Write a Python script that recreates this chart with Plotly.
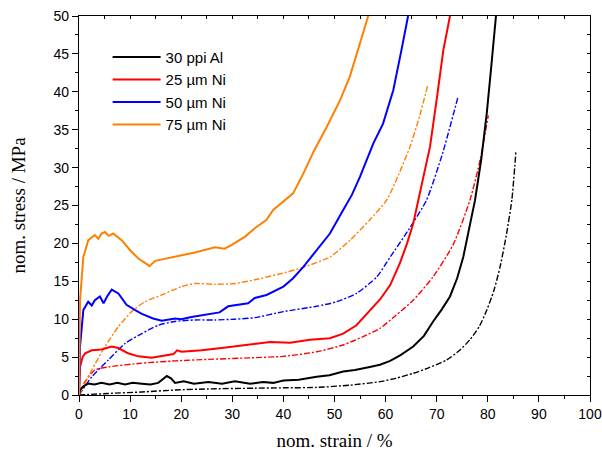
import plotly.graph_objects as go

# ---- data (nom. strain %, nom. stress MPa) ----
al_x = [0, 0.2, 1.0, 1.8, 3.0, 4.4, 6.0, 7.5, 9.0, 10.5, 12.3, 14.0, 15.5, 16.5, 17.2, 18.0, 18.8, 20.5, 22.5, 25.3, 28.0, 30.5, 33.5, 36.0, 38.0, 40.0, 43.0, 46.5, 49.0, 51.7, 54.0, 56.9, 58.9, 60.9, 63.0, 65.4, 67.5, 69.3, 71.0, 72.6, 74.0, 75.2, 76.2, 77.5, 78.7, 79.8, 80.7, 81.6]
al_y = [0, 0.7, 1.2, 1.5, 1.4, 1.6, 1.4, 1.6, 1.4, 1.6, 1.5, 1.4, 1.6, 2.1, 2.5, 2.2, 1.6, 1.8, 1.5, 1.7, 1.5, 1.8, 1.5, 1.7, 1.6, 1.9, 2.0, 2.4, 2.6, 3.1, 3.3, 3.7, 4.0, 4.5, 5.3, 6.4, 7.8, 9.7, 11.3, 13.0, 15.4, 18.2, 21.3, 25.7, 31.0, 37.2, 43.5, 50.0]
al_c_x = [0, 5.7, 12.3, 18.8, 25.3, 34.4, 40.0, 46.5, 53.0, 58.9, 62.0, 65.4, 68.5, 71.9, 74.5, 76.5, 78.3, 79.8, 81.2, 82.4, 83.6, 84.7, 85.5]
al_c_y = [0, 0.2, 0.4, 0.66, 0.8, 0.9, 0.95, 1.0, 1.3, 1.76, 2.2, 2.86, 3.6, 4.6, 5.9, 7.3, 9.0, 11.2, 13.8, 16.9, 21.0, 25.7, 32.1]

ni25_x = [0, 0.2, 0.7, 1.2, 2.5, 4.4, 6.4, 7.7, 9.6, 11.6, 14.2, 17.5, 18.5, 19.2, 20.1, 22.0, 24.0, 27.9, 31.8, 34.4, 37.4, 41.3, 45.2, 49.1, 51.7, 54.3, 56.9, 58.9, 60.9, 62.8, 64.2, 65.4, 66.4, 67.6, 68.7, 70.0, 71.3, 72.6]
ni25_y = [0, 3.7, 5.0, 5.5, 5.9, 6.0, 6.4, 6.2, 5.5, 5.1, 4.9, 5.3, 5.4, 5.9, 5.7, 5.8, 5.9, 6.2, 6.5, 6.7, 7.0, 6.9, 7.3, 7.5, 8.1, 9.2, 11.2, 12.6, 14.5, 17.4, 20.0, 22.6, 25.7, 29.2, 32.8, 39.0, 45.5, 50.0]
ni25_c_x = [0, 1.2, 3.1, 5.7, 12.3, 18.8, 25.3, 33.5, 40.0, 46.5, 51.7, 55.6, 58.9, 62.0, 65.4, 69.3, 73.2, 76.5, 78.5, 80.1]
ni25_c_y = [0, 1.8, 3.3, 3.7, 4.2, 4.5, 4.7, 4.9, 5.1, 5.7, 6.6, 7.7, 8.8, 10.5, 12.5, 15.6, 19.8, 25.7, 31.0, 36.9]

ni50_x = [0, 0.2, 0.85, 1.8, 2.5, 3.1, 4.1, 4.8, 5.5, 6.4, 7.7, 9.3, 11.0, 12.3, 14.5, 16.2, 18.8, 20.0, 22.0, 25.3, 27.5, 29.2, 33.1, 34.4, 36.7, 40.0, 41.9, 43.9, 46.5, 49.1, 51.7, 53.4, 55.0, 57.6, 59.5, 61.5, 63.1, 64.4]
ni50_y = [0, 6.4, 11.2, 12.3, 11.8, 12.5, 13.0, 12.1, 13.0, 13.9, 13.4, 11.9, 11.2, 10.7, 10.1, 9.8, 10.1, 10.0, 10.3, 10.6, 10.9, 11.7, 12.1, 12.8, 13.2, 14.3, 15.4, 16.9, 19.1, 21.3, 24.4, 26.4, 28.8, 33.2, 35.8, 40.2, 45.5, 50.0]
ni50_c_x = [0, 2.5, 5.7, 9.0, 12.3, 15.5, 18.8, 22.7, 26.6, 30.5, 34.4, 40.0, 46.5, 50.4, 54.3, 58.3, 60.9, 64.5, 68.0, 71.2, 74.2]
ni50_c_y = [0, 2.4, 4.6, 6.8, 8.1, 9.2, 9.7, 9.9, 9.9, 10.0, 10.2, 11.0, 11.7, 12.3, 13.4, 15.6, 18.2, 21.8, 25.7, 32.0, 39.4]

ni75_x = [0, 0.2, 0.85, 1.8, 2.5, 3.1, 3.8, 4.4, 5.1, 5.8, 6.7, 8.4, 10.0, 11.6, 13.2, 13.8, 14.9, 18.8, 22.7, 26.6, 28.5, 29.9, 32.5, 34.4, 36.7, 38.0, 40.0, 41.9, 43.9, 45.9, 48.5, 51.1, 53.0, 55.0, 56.6]
ni75_y = [0, 12.5, 18.2, 20.4, 20.8, 21.1, 20.6, 21.3, 21.5, 21.0, 21.3, 20.4, 19.1, 18.0, 17.3, 17.0, 17.7, 18.2, 18.8, 19.5, 19.3, 19.8, 20.9, 22.0, 23.1, 24.4, 25.5, 26.6, 29.2, 32.1, 35.4, 38.9, 42.0, 46.4, 50.0]
ni75_c_x = [0, 2.5, 5.1, 7.7, 10.3, 12.9, 16.2, 20.1, 22.7, 26.6, 30.5, 34.4, 40.0, 43.2, 49.1, 53.0, 56.9, 60.2, 62.5, 64.8, 66.7, 68.3]
ni75_c_y = [0, 3.3, 6.4, 9.0, 11.0, 12.3, 13.2, 14.3, 14.7, 14.6, 14.7, 15.2, 16.1, 16.7, 18.2, 20.4, 23.1, 25.7, 29.0, 32.8, 36.9, 41.0]

labels = ["30 ppi Al", "25 µm Ni", "50 µm Ni", "75 µm Ni"]
colors = ["#000000", "#ff0000", "#0000ff", "#ff8000"]
solid = [(al_x, al_y), (ni25_x, ni25_y), (ni50_x, ni50_y), (ni75_x, ni75_y)]
dashed = [(al_c_x, al_c_y), (ni25_c_x, ni25_c_y), (ni50_c_x, ni50_c_y), (ni75_c_x, ni75_c_y)]

fig = go.Figure()
for (cx, cy), col in zip(dashed, colors):
    fig.add_trace(go.Scatter(x=cx, y=cy, mode="lines", showlegend=False,
                             line=dict(color=col, width=1.4, dash="6px,2px,2px,2px", shape="spline", smoothing=0.6),
                             hoverinfo="skip"))
for (sx, sy), col, lab in zip(solid, colors, labels):
    fig.add_trace(go.Scatter(x=sx, y=sy, mode="lines", name=lab,
                             line=dict(color=col, width=2)))

# invisible trace for mirrored axes
fig.add_trace(go.Scatter(x=[0, 100], y=[0, 50], xaxis="x2", yaxis="y2", mode="lines",
                         line=dict(width=0), showlegend=False, hoverinfo="skip", opacity=0))

tickfont = dict(family="Liberation Sans", size=14, color="black")
titlefont = dict(family="Liberation Serif", size=19, color="black")

fig.update_layout(
    width=602, height=457,
    margin=dict(l=79, r=12, t=16, b=62, autoexpand=False),
    paper_bgcolor="white", plot_bgcolor="white",
    showlegend=True,
    legend=dict(x=0.056, y=0.935, xanchor="left", yanchor="top",
                font=dict(family="Liberation Sans", size=15, color="black"),
                bgcolor="rgba(0,0,0,0)", tracegroupgap=0, itemwidth=48),
    xaxis=dict(range=[0, 100], dtick=10, ticks="outside", ticklen=6, tickwidth=1.2,
               tickcolor="black", showline=True, linecolor="black", linewidth=1.3,
               showgrid=False, zeroline=False, tickfont=tickfont, automargin=False,
               minor=dict(dtick=5, ticks="outside", ticklen=3, tickcolor="black", tickwidth=1.2),
               title=dict(text="nom. strain / %", font=titlefont, standoff=12)),
    yaxis=dict(range=[0, 50], dtick=5, ticks="outside", ticklen=6, tickwidth=1.2,
               tickcolor="black", showline=True, linecolor="black", linewidth=1.3,
               showgrid=False, zeroline=False, tickfont=tickfont, automargin=False,
               minor=dict(dtick=2.5, ticks="outside", ticklen=3, tickcolor="black", tickwidth=1.2),
               title=dict(text="nom. stress / MPa", font=titlefont, standoff=22)),
    xaxis2=dict(range=[0, 100], overlaying="x", side="top", dtick=5, ticks="inside", ticklen=3,
                tickwidth=1.2, tickcolor="black", showticklabels=False, showline=True,
                linecolor="black", linewidth=1.3, showgrid=False, zeroline=False, automargin=False),
    yaxis2=dict(range=[0, 50], overlaying="y", side="right", dtick=2.5, ticks="inside", ticklen=3,
                tickwidth=1.2, tickcolor="black", showticklabels=False, showline=True,
                linecolor="black", linewidth=1.3, showgrid=False, zeroline=False, automargin=False),
)

fig.write_html("out.html", config={"displayModeBar": False},
               post_script="document.body.style.margin='0';document.body.style.padding='0';")
